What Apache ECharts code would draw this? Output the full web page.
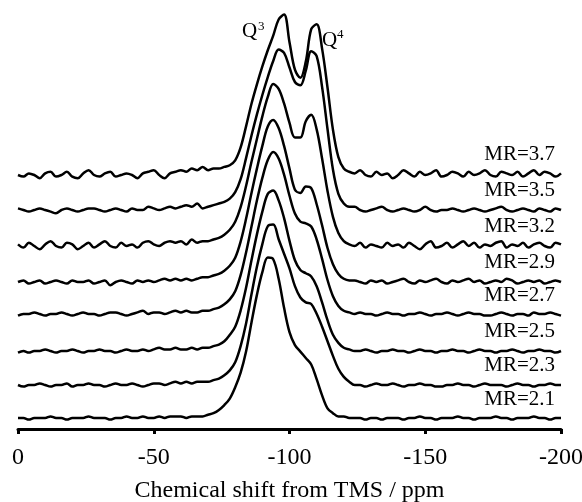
<!DOCTYPE html>
<html>
<head>
<meta charset="utf-8">
<script src="https://cdn.jsdelivr.net/npm/echarts@6/dist/echarts.min.js"></script>
<style>
html,body{margin:0;padding:0;background:#fff;}
#chart{width:582px;height:502px;}
</style>
</head>
<body>
<div id="chart"></div>
<script>
// Chemical shift grid (ppm)
const shifts = [0,-2,-4,-6,-8,-10,-12,-14,-16,-18,-20,-22,-24,-26,-28,-30,-32,-34,-36,-38,
-40,-42,-44,-46,-48,-50,-52,-54,-56,-58,-60,-62,-64,-66,-68,-70,-72,-74,-76,-78,
-80,-82,-84,-86,-88,-90,-92,-94,-96,-98,-100,-102,-104,-106,-108,-110,-112,-114,-116,-118,
-120,-122,-124,-126,-128,-130,-132,-134,-136,-138,-140,-142,-144,-146,-148,-150,-152,-154,-156,-158,
-160,-162,-164,-166,-168,-170,-172,-174,-176,-178,-180,-182,-184,-186,-188,-190,-192,-194,-196,-198,-200];

const seriesNames = ['MR=2.1','MR=2.3','MR=2.5','MR=2.7','MR=2.9','MR=3.2','MR=3.5','MR=3.7'];
// vertical stacking offsets of each trace
const offsets = [11, 44, 78, 115, 147, 183, 219, 254];
const xTicks = [0, -50, -100, -150, -200];

// normalized intensities (% of maximum)
const mr21 = [0,0,-1,0,0,0,1,0,0,-1,0,0,0,1,0,0,0,-1,0,0,1,0,0,1,0,0,1,0,1,1,
1,0,1,1,1,
2,3,5,8,12,19,28,41,59,76,90,99,98,86,68,53,45,41,37,33,24,14,6,3,1,1,0,
0,0,-1,0,0,-1,0,0,0,-1,0,0,1,0,0,-1,0,0,0,1,0,0,-1,0,0,0,1,0,0,-1,0,0,0,1,0,0,-1,0,0];
const mr23 = [0,-1,0,0,1,0,-1,0,0,1,-1,0,0,1,0,0,-1,0,1,0,0,1,0,-1,0,1,1,0,1,2,
1,2,1,2,2,
2,3,4,6,9,14,24,38,56,73,87,98,99,90,81,72,61,54,51,50,44,36,27,18,10,5,2,
0,0,-1,0,1,0,0,1,0,-1,0,0,1,0,0,-1,-1,0,0,1,0,0,-1,0,1,0,0,0,-1,0,1,0,0,-1,0,0,1,0,0];
const mr25 = [-1,0,-1,0,0,1,0,-1,0,0,1,0,-1,0,0,1,0,0,-1,0,1,0,0,1,0,1,2,1,1,2,
1,1,2,1,2,
2,3,4,6,10,15,25,39,56,72,86,97,99,93,82,68,56,50,48,46,40,30,19,10,5,2,1,
0,0,1,0,-1,0,0,1,0,0,-1,0,1,0,0,-1,0,0,1,0,0,-1,0,1,0,0,-1,0,0,1,0,-1,0,0,1,0,0,-1,0];
const mr27 = [-1,0,0,1,0,-1,0,0,1,0,-1,0,1,0,0,-1,0,1,1,0,-1,0,1,2,0,1,1,0,1,2,
1,2,1,1,2,
2,3,4,6,9,14,24,38,54,70,84,95,100,96,86,73,62,57,56,54,46,34,21,11,5,2,1,
0,1,0,0,-1,0,1,0,0,-1,0,0,1,0,-1,0,0,1,0,-1,0,1,0,0,-1,-1,0,1,0,-1,0,0,-1,1,0,0,1,0,-1];
const mr29 = [0,1,-1,0,1,-1,0,1,0,-1,1,0,0,1,-1,0,1,-2,0,1,0,-1,1,0,1,0,1,2,1,2,
1,2,1,2,3,
3,4,5,7,10,15,25,39,55,70,84,96,100,95,84,70,57,55,59,58,48,35,21,11,5,2,1,
1,0,-1,1,0,1,-1,0,1,2,0,-1,1,0,1,2,0,-1,1,0,1,2,0,1,-1,0,1,0,2,1,-1,0,1,0,1,-1,0,1,0];
const mr32 = [1,-1,2,0,-2,1,3,0,-1,2,1,-2,0,2,-1,1,3,0,-1,2,0,1,-1,2,3,1,0,2,3,2,
3,1,4,2,3,
3,4,5,7,10,15,24,37,52,66,80,92,100,97,88,76,67,67,77,81,72,54,34,18,8,3,1,
0,2,-1,1,0,-1,2,0,1,-1,2,0,-2,1,3,-1,0,2,-1,1,3,0,2,-1,1,0,2,3,-1,1,0,2,-1,1,2,0,-1,2,1];
const mr35 = [1,0,-1,0,1,0,-1,-2,0,1,0,-1,0,1,1,0,-1,0,1,0,-1,1,0,0,2,1,0,1,2,1,
2,3,2,4,1,
2,3,4,5,7,11,19,32,46,59,71,82,92,99,97,88,79,77,86,98,95,76,50,25,10,4,2,
2,0,-1,0,1,2,0,-1,0,1,0,-1,0,2,0,-1,0,0,1,0,-1,0,1,0,-1,0,1,2,0,-1,0,1,0,-1,1,0,-1,1,0];
const mr37 = [0,-1,1,0,-2,1,2,-1,0,2,-1,-2,1,3,0,-1,1,2,-1,0,1,0,-2,1,2,3,0,-2,1,2,
3,2,4,3,5,
3,4,4,5,6,9,17,30,44,56,67,77,86,96,99,82,65,60,70,90,93,78,54,28,11,4,2,
1,3,0,-1,2,0,1,-2,0,3,1,-1,2,0,1,3,-1,0,2,1,-1,2,0,1,3,0,-1,2,1,0,2,-1,1,3,0,2,1,-1,1];

const spectra = [mr21, mr23, mr25, mr27, mr29, mr32, mr35, mr37];

const SERIF = '"Times New Roman", "Liberation Serif", "DejaVu Serif", serif';
const SCALE = 1.62;   // intensity % -> y units
const GRID = {left: 18, right: 21, top: 9, bottom: 73, containLabel: false, outerBoundsMode: 'none'};
const YMAX = 420;

const chart = echarts.init(document.getElementById('chart'), null, {renderer: 'canvas'});

const series = spectra.map((arr, k) => ({
  name: seriesNames[k],
  type: 'line',
  showSymbol: false,
  smooth: 0.35,
  lineStyle: {color: '#000', width: 2.5},
  data: arr.map((v, i) => [shifts[i], offsets[k] + v * SCALE]),
  z: 10 - k
}));

chart.setOption({
  animation: false,
  backgroundColor: '#fff',
  grid: GRID,
  xAxis: {
    type: 'value', min: -200, max: 0, interval: 50, inverse: true,
    axisLine: {show: true, onZero: false, lineStyle: {color: '#000', width: 3}},
    axisTick: {show: true, inside: false, length: 5, lineStyle: {color: '#000', width: 3}},
    splitLine: {show: false},
    axisLabel: {color: '#000', fontFamily: SERIF, fontSize: 24, margin: 17,
      formatter: v => xTicks.includes(v) ? String(v) : ''},
    name: 'Chemical shift from TMS / ppm',
    nameLocation: 'middle', nameGap: 50,
    nameTextStyle: {color: '#000', fontFamily: SERIF, fontSize: 24}
  },
  yAxis: {type: 'value', min: 0, max: YMAX, show: false},
  series: series
});

// text annotations
const labelGaps = [19, 20, 20, 19, 20, 20, 20, 21];
const graphics = [];
seriesNames.forEach((n, k) => {
  const yPix = chart.convertToPixel({yAxisIndex: 0}, offsets[k] + labelGaps[k]);
  graphics.push({type: 'text', x: 555, y: yPix, z: 100,
    style: {text: n, fill: '#000', font: '21px ' + SERIF, textAlign: 'right', textVerticalAlign: 'middle'}});
});
graphics.push({type: 'text', x: 242, y: 31, z: 100,
  style: {text: 'Q', fill: '#000', font: '21px ' + SERIF, textAlign: 'left', textVerticalAlign: 'middle'}});
graphics.push({type: 'text', x: 258, y: 27, z: 100,
  style: {text: '3', fill: '#000', font: '13px ' + SERIF, textAlign: 'left', textVerticalAlign: 'middle'}});
graphics.push({type: 'text', x: 322, y: 40, z: 100,
  style: {text: 'Q', fill: '#000', font: '21px ' + SERIF, textAlign: 'left', textVerticalAlign: 'middle'}});
graphics.push({type: 'text', x: 337, y: 35, z: 100,
  style: {text: '4', fill: '#000', font: '13px ' + SERIF, textAlign: 'left', textVerticalAlign: 'middle'}});
chart.setOption({graphic: graphics});
</script>
</body>
</html>
